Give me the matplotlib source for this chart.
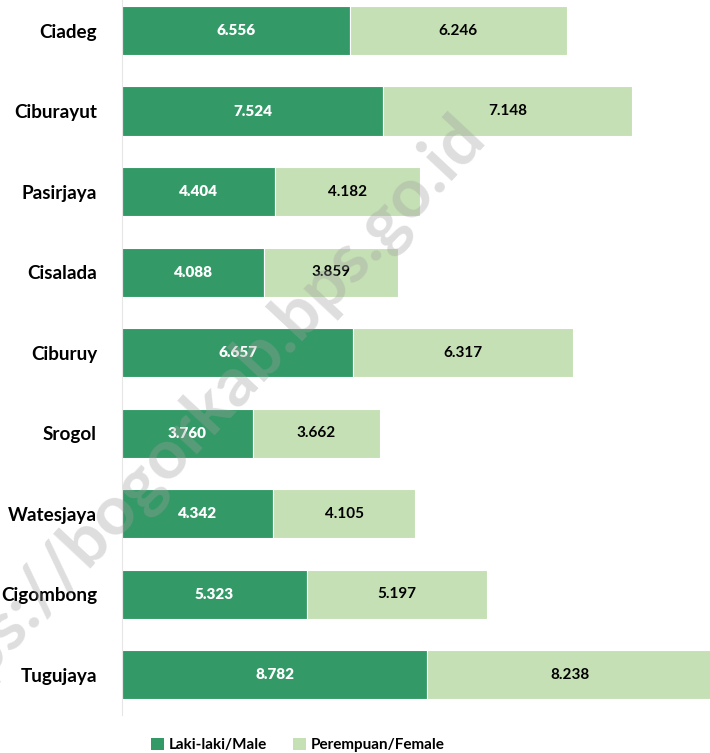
import matplotlib
matplotlib.use("Agg")
import matplotlib.pyplot as plt
from matplotlib.patches import Patch

villages = ["Ciadeg", "Ciburayut", "Pasirjaya", "Cisalada", "Ciburuy", "Srogol",
            "Watesjaya", "Cigombong", "Tugujaya"]
male = [6556, 7524, 4404, 4088, 6657, 3760, 4342, 5323, 8782]
female = [6246, 7148, 4182, 3859, 6317, 3662, 4105, 5197, 8238]
series_labels = ["Laki-laki/Male", "Perempuan/Female"]
watermark = "https://bogorkab.bps.go.id"

c_male = "#339966"
c_female = "#c5e0b4"
plt.rcParams["font.family"] = ["Lato", "DejaVu Sans"]

def fmt(v):
    return f"{v:,}".replace(",", ".")

fig = plt.figure(figsize=(7.10, 7.53), dpi=100)
ax = fig.add_axes([122/710, 1 - 715/753, 1 - 122/710, (715 + 9.75)/753])

y = list(range(len(villages)))
h = 0.61
ax.barh(y, male, height=h, color=c_male, edgecolor="white", linewidth=0.8, zorder=2)
ax.barh(y, female, left=male, height=h, color=c_female, edgecolor="white", linewidth=0.8, zorder=2)

for yi, m, f in zip(y, male, female):
    ax.text(m / 2, yi, fmt(m), ha="center", va="center", color="white",
            fontsize=11, fontweight="heavy", zorder=5)
    ax.text(m + f / 2, yi, fmt(f), ha="center", va="center", color="black",
            fontsize=11, fontweight="bold", zorder=5)

ax.set_ylim(len(villages) - 0.5, -0.5)
ax.set_xlim(0, 16930)
ax.set_yticks(y)
ax.set_yticklabels(villages, fontsize=13.6, fontweight="bold")
ax.tick_params(axis="y", length=0, pad=18)
ax.set_xticks([])
for s in ["top", "right", "bottom"]:
    ax.spines[s].set_visible(False)
ax.spines["left"].set_color("#e6e6e6")
ax.spines["left"].set_linewidth(0.8)

handles = [Patch(facecolor=c_male, label=series_labels[0]),
           Patch(facecolor=c_female, label=series_labels[1])]
fig.legend(handles=handles, loc="center", bbox_to_anchor=(298/710, 1 - 745/753),
           ncol=2, frameon=False, handlelength=0.85, handleheight=0.85,
           handletextpad=0.3, columnspacing=1.7,
           prop={"weight": "bold", "size": 11})

fig.text(474/710, 1 - 126/753, watermark, rotation=47, rotation_mode="anchor",
         ha="right", va="center", fontsize=50, fontweight="bold",
         color="#a0a0a0", alpha=0.35, zorder=10)

fig.savefig("out.png", dpi=100)
